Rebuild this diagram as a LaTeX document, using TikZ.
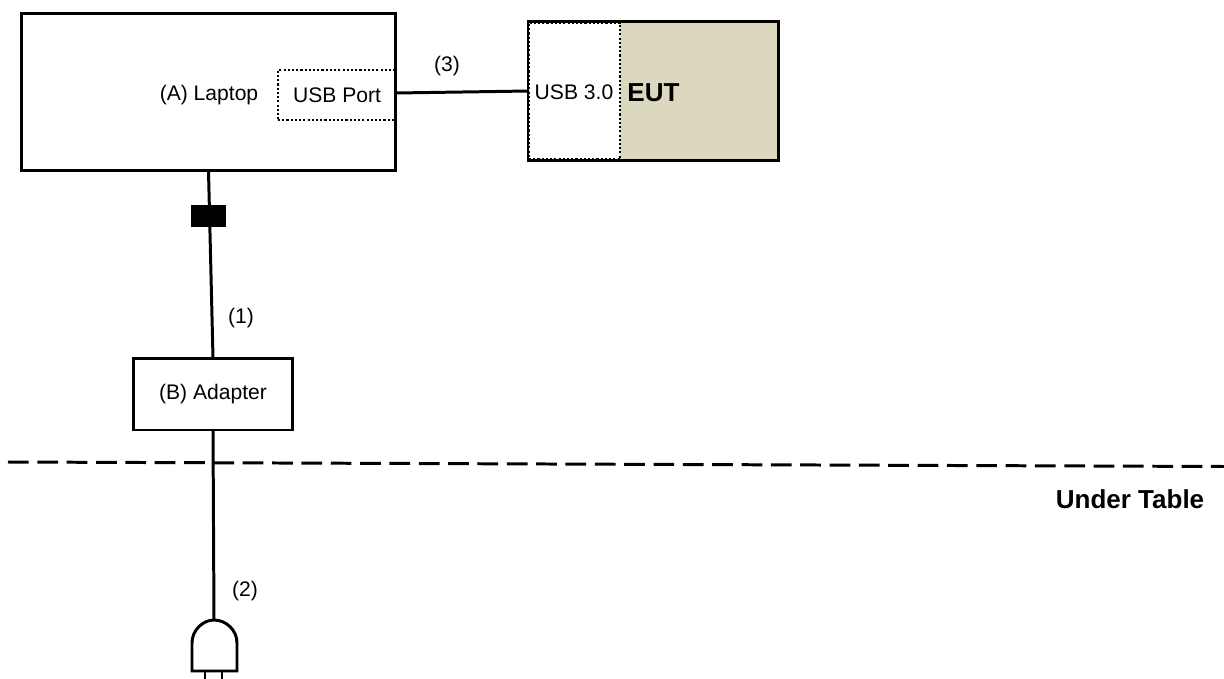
\documentclass[tikz,border=0pt]{standalone}
\usepackage{fontspec}
\setmainfont{Liberation Sans}
\usepackage{tikz}
\definecolor{eutfill}{HTML}{DCD8C0}
\tikzstyle{box}=[rectangle,draw=black,outer sep=0,inner sep=0,font=\fontsize{12}{14}\selectfont]
\tikzstyle{dottedbox}=[box,line width=1.4pt,dash pattern=on 1.2pt off 1.2pt]
\tikzstyle{tag}=[inner sep=0,font=\fontsize{12}{14}\selectfont]
\tikzstyle{boldtag}=[inner sep=0,font=\fontsize{14.8}{17}\selectfont\bfseries]
\tikzstyle{cable}=[draw=black]
\tikzset{every picture/.style={
    line width=1.7pt
  }
}

\begin{document}
\begin{tikzpicture}[x=0.02cm,y=-0.02cm]
      \useasboundingbox (0,0) rectangle (1224,679);
      \node[box,minimum width=7.5cm,minimum height=3.16cm] at (208.5,92) (laptop) {};
      \node[tag] at (209,95) (laptoptext) {(A) Laptop};
      \node[dottedbox,minimum width=2.36cm,minimum height=1cm] at (337,95) (usbport) {};
      \node[tag] at (337,95) (usbporttext) {USB Port};
      \node[box,fill=eutfill,minimum width=5.02cm,minimum height=2.8cm] at (653.5,91) (eut) {};
      \node[dottedbox,fill=white,minimum width=1.82cm,minimum height=2.74cm] at (574.5,91) (usb30) {};
      \node[tag] at (574,92) (usb30text) {USB 3.0};
      \node[boldtag,anchor=west] at (626,93) (euttext) {EUT};
      \node[box,minimum width=3.2cm,minimum height=1.44cm] at (213,394) (adapter) {(B) Adapter};
      \coordinate (usbout) at (396,93);
      \coordinate (plugtop) at (214,620);
      \coordinate (dashleft) at (8,462);
      \coordinate (dashright) at (1224,466.5);
      \draw[cable] (laptop.south)--(adapter.north);
      \draw[cable] (adapter.south)--(plugtop);
      \draw[cable] (usbout)--(usb30.west);
      \draw[cable,dash pattern=on 11.8pt off 4.9pt] (dashleft)--(dashright);
      \node[fill=black,inner sep=0,outer sep=0,minimum width=0.7cm,minimum height=0.44cm] at (208.5,216) (choke) {};
      \node[tag] at (447,66) (label3) {(3)};
      \node[tag] at (241,318) (label1) {(1)};
      \node[tag] at (245,591) (label2) {(2)};
      \node[boldtag] at (1130,499) (undertable) {Under Table};
      % plug
      \draw (192,671) -- (192,643) .. controls (192,630) and (203,620) .. (plugtop)
        .. controls (226,620) and (237,630) .. (237,643) -- (237,671) -- cycle;
      \draw (205,671) -- (205,679);
      \draw (222,671) -- (222,679);
\end{tikzpicture}
\end{document}
